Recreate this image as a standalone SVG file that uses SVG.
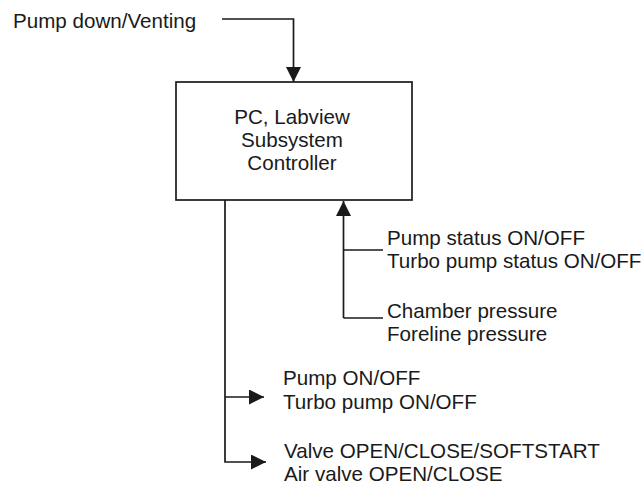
<svg xmlns="http://www.w3.org/2000/svg" width="643" height="489" viewBox="0 0 643 489">
<defs>
<style>
text{font-family:"Liberation Sans",Arial,sans-serif;font-size:20.6px;fill:#1a1a1a}
.ln{fill:none;stroke:#1a1a1a;stroke-width:1.7}
.box{fill:#fff;stroke:#1a1a1a;stroke-width:1.7}
</style>
<marker id="ah" markerUnits="userSpaceOnUse" markerWidth="15" markerHeight="15" refX="15" refY="7.5" orient="auto">
<path d="M0,0 L15,7.5 L0,15 z" fill="#1a1a1a"/>
</marker>
</defs>
<rect width="643" height="489" fill="#fff"/>
<g id="connectors">
<path class="ln" d="M222,19 H293.5 V82" marker-end="url(#ah)"/>
<path class="ln" d="M343.5,318 V201" marker-end="url(#ah)"/>
<path class="ln" d="M343.5,250 H383"/>
<path class="ln" d="M343.5,318 H383"/>
<path class="ln" d="M225,200 V462 H266" marker-end="url(#ah)"/>
<path class="ln" d="M225,397 H264" marker-end="url(#ah)"/>
</g>
<g id="input">
<text x="13" y="28">Pump down/Venting</text>
</g>
<g id="controller">
<rect class="box" x="176" y="82" width="236" height="118"/>
<text x="292" y="124" text-anchor="middle">PC, Labview</text>
<text x="292" y="147" text-anchor="middle">Subsystem</text>
<text x="292" y="170" text-anchor="middle">Controller</text>
</g>
<g id="status">
<text x="387" y="245">Pump status ON/OFF</text>
<text x="387" y="268">Turbo pump status ON/OFF</text>
</g>
<g id="pressure">
<text x="387" y="318">Chamber pressure</text>
<text x="387" y="341">Foreline pressure</text>
</g>
<g id="pump">
<text x="283" y="385">Pump ON/OFF</text>
<text x="283" y="409">Turbo pump ON/OFF</text>
</g>
<g id="valve">
<text x="284" y="458">Valve OPEN/CLOSE/SOFTSTART</text>
<text x="284" y="481">Air valve OPEN/CLOSE</text>
</g>
</svg>
